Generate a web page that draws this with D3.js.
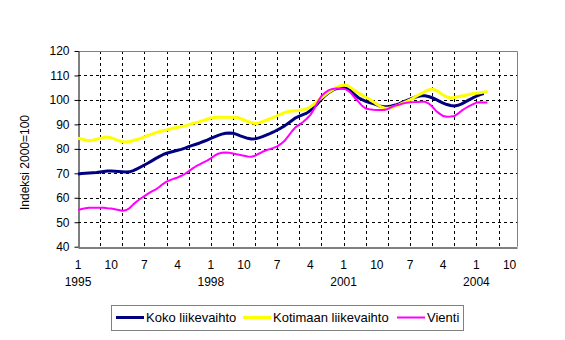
<!DOCTYPE html>
<html>
<head>
<meta charset="utf-8">
<script src="https://cdn.jsdelivr.net/npm/d3@7/dist/d3.min.js"></script>
<style>
  html, body { margin: 0; padding: 0; background: #fff; }
  svg { display: block; }
  text { font-family: "Liberation Sans", Arial, sans-serif; fill: #000; }
</style>
</head>
<body>
<svg id="chart" width="565" height="340"></svg>
<script>
// ---- Data (monthly, starting January 1995) ----
const startYear = 1995;
const seriesNames = ["Koko liikevaihto", "Kotimaan liikevaihto", "Vienti"];
const seriesColors = ["#000080", "#FFFF00", "#FF00FF"];

const koko = [
  69.7, 69.9, 70.0, 70.1, 70.2, 70.3, 70.5, 70.7, 70.9, 70.9, 70.8, 70.7,
  70.6, 70.5, 70.6, 71.1, 71.8, 72.6, 73.4, 74.2, 75.1, 76.0, 76.8, 77.6,
  78.2, 78.6, 79.0, 79.4, 79.8, 80.3, 80.9, 81.4, 81.9, 82.4, 83.0, 83.6,
  84.3, 84.9, 85.5, 86.0, 86.4, 86.5, 86.4, 85.9, 85.3, 84.8, 84.3, 84.0,
  84.1, 84.5, 85.0, 85.6, 86.2, 86.9, 87.7, 88.5, 89.4, 90.5, 91.6, 92.7,
  93.4, 94.0, 94.6, 95.7, 97.0, 98.6, 100.3, 101.8, 103.0, 104.0, 104.6, 104.9,
  105.0, 104.6, 103.6, 102.2, 100.9, 100.1, 99.4, 98.9, 98.5, 98.0, 97.4, 97.2,
  97.2, 97.5, 97.9, 98.4, 99.1, 99.7, 100.3, 100.9, 101.4, 101.7, 101.7, 101.4,
  100.9, 100.2, 99.4, 98.7, 98.1, 97.7, 97.5, 97.8, 98.4, 99.2, 100.0, 100.8,
  101.5, 102.2, 102.6
];
const kotimaan = [
  84.3, 84.0, 83.6, 83.3, 83.5, 83.9, 84.3, 84.7, 84.8, 84.5, 84.0, 83.4,
  82.9, 82.8, 83.0, 83.4, 83.8, 84.3, 84.9, 85.5, 86.0, 86.5, 87.0, 87.4,
  87.7, 88.1, 88.5, 88.8, 89.1, 89.4, 89.8, 90.3, 90.7, 91.1, 91.6, 92.1,
  92.6, 92.8, 92.9, 92.9, 92.9, 92.9, 92.9, 92.8, 92.4, 91.8, 91.2, 90.7,
  90.4, 90.6, 91.1, 91.7, 92.3, 92.9, 93.6, 94.2, 94.8, 95.3, 95.5, 95.6,
  95.7, 96.0, 96.4, 97.2, 98.3, 99.6, 100.9, 102.1, 103.2, 104.2, 105.0, 105.7,
  106.1, 105.9, 105.0, 103.8, 102.9, 101.9, 101.1, 100.3, 99.3, 98.2, 97.3, 96.7,
  96.6, 96.9, 97.4, 98.0, 98.7, 99.3, 100.0, 100.9, 101.8, 102.6, 103.4, 104.1,
  104.5, 104.0, 103.0, 102.0, 101.2, 100.8, 101.0, 101.3, 101.6, 101.9, 102.2, 102.5,
  102.7, 102.9, 103.2, 103.4
];
const vienti = [
  55.0, 55.4, 55.7, 55.9, 55.9, 55.9, 55.9, 55.9, 55.7, 55.6, 55.3, 55.0,
  54.7, 54.9, 55.8, 57.3, 58.6, 59.7, 60.7, 61.7, 62.6, 63.3, 64.4, 65.6,
  66.6, 67.2, 67.8, 68.3, 69.0, 69.8, 70.8, 71.9, 72.9, 73.7, 74.5, 75.2,
  76.1, 77.2, 78.0, 78.4, 78.5, 78.4, 78.1, 77.8, 77.5, 77.2, 76.9, 76.8,
  77.2, 78.0, 78.8, 79.4, 79.9, 80.4, 81.0, 82.0, 83.3, 85.2, 87.2, 88.9,
  89.9, 91.0, 92.3, 93.9, 96.3, 99.2, 101.6, 103.0, 104.0, 104.5, 104.7, 104.7,
  104.6, 104.0, 102.8, 100.9, 99.3, 97.6, 96.5, 96.2, 96.0, 95.9, 95.9, 95.9,
  96.3, 97.1, 97.7, 98.0, 98.5, 98.8, 99.0, 99.1, 99.2, 99.3, 99.3, 98.6,
  97.3, 95.6, 94.4, 93.4, 93.1, 93.2, 93.4, 94.4, 95.6, 96.6, 97.5, 98.2,
  98.9, 99.0, 98.9, 98.9
];

// x tick labels every 9 months (month index: 0 = Jan 1995)
const xTickIndex  = [0, 9, 18, 27, 36, 45, 54, 63, 72, 81, 90, 99, 108, 117];
const xTickMonth  = ["1", "10", "7", "4", "1", "10", "7", "4", "1", "10", "7", "4", "1", "10"];
const xTickYear   = ["1995", "", "", "", "1998", "", "", "", "2001", "", "", "", "2004", ""];
const yTicks = [40, 50, 60, 70, 80, 90, 100, 110, 120];
const yTitle = "Indeksi 2000=100";

// ---- Layout ----
const svg = d3.select("#chart");
const L = 78, R = 517, T = 51, B = 246.7;
const x = d3.scaleLinear().domain([0, 119]).range([L, R]);
const y = d3.scaleLinear().domain([40, 120]).range([B, T]);

// grid
const gridIdx = d3.range(6, 119, 6);
svg.append("g").selectAll("line").data(gridIdx).join("line")
  .attr("x1", d => Math.round(x(d)) + 0.5).attr("x2", d => Math.round(x(d)) + 0.5)
  .attr("y1", T).attr("y2", B)
  .attr("stroke", "#000").attr("stroke-width", 1).attr("stroke-dasharray", "3,3");
svg.append("g").selectAll("line").data(yTicks.slice(1, -1)).join("line")
  .attr("x1", L).attr("x2", R)
  .attr("y1", d => Math.round(y(d)) + 0.5).attr("y2", d => Math.round(y(d)) + 0.5)
  .attr("stroke", "#000").attr("stroke-width", 1).attr("stroke-dasharray", "3,3");

// plot frame (top/right grey)
svg.append("path")
  .attr("d", `M${L},${T + 0.5}H${R + 0.5}V${B}`)
  .attr("fill", "none").attr("stroke", "#808080").attr("stroke-width", 1);

// y axis
const yAxis = d3.axisLeft(y).tickValues(yTicks).tickSize(4).tickPadding(5).tickSizeOuter(0);
const gy = svg.append("g").attr("transform", `translate(${L + 0.5},0)`).call(yAxis);
gy.select(".domain").attr("stroke", "#000");
gy.selectAll(".tick line").attr("stroke", "#000");
gy.selectAll("text").attr("font-size", 12).attr("font-family", '"Liberation Sans", Arial, sans-serif').attr("fill", "#000");

// x axis line
const xAxis = d3.axisBottom(x).tickValues([]).tickSizeOuter(0);
const gx = svg.append("g").attr("transform", `translate(0,${Math.round(B) + 0.5})`).call(xAxis);
gx.select(".domain").attr("stroke", "#000");

// x labels
const xl = svg.append("g");
xl.selectAll("text.m").data(xTickIndex).join("text").attr("class", "m")
  .attr("x", d => x(d)).attr("y", 269)
  .attr("text-anchor", "middle").attr("font-size", 12)
  .text((d, i) => xTickMonth[i]);
xl.selectAll("text.y").data(xTickIndex).join("text").attr("class", "y")
  .attr("x", d => x(d)).attr("y", 286)
  .attr("text-anchor", "middle").attr("font-size", 12)
  .text((d, i) => xTickYear[i]);

// y title
svg.append("text")
  .attr("transform", "translate(29,162.5) rotate(-90)")
  .attr("text-anchor", "middle").attr("font-size", 12)
  .text(yTitle);

// series
const allSeries = [koko, kotimaan, vienti];
const widths = [3, 3, 2];
const line = d3.line().x((d, i) => x(i)).y(d => y(d));
allSeries.forEach((s, k) => {
  svg.append("path").datum(s)
    .attr("d", line)
    .attr("fill", "none")
    .attr("stroke", seriesColors[k])
    .attr("stroke-width", widths[k])
    .attr("stroke-linejoin", "round");
});

// legend
const lg = svg.append("g");
lg.append("rect").attr("x", 111.5).attr("y", 305.5).attr("width", 352).attr("height", 25)
  .attr("fill", "#fff").attr("stroke", "#808080").attr("stroke-width", 1);
const legX = [116, 243, 397];
seriesNames.forEach((n, k) => {
  lg.append("line").attr("x1", legX[k]).attr("x2", legX[k] + 28)
    .attr("y1", 317.5).attr("y2", 317.5)
    .attr("stroke", seriesColors[k]).attr("stroke-width", widths[k]);
  lg.append("text").attr("x", legX[k] + 30).attr("y", 322)
    .attr("font-size", 13).text(n);
});
</script>
</body>
</html>
